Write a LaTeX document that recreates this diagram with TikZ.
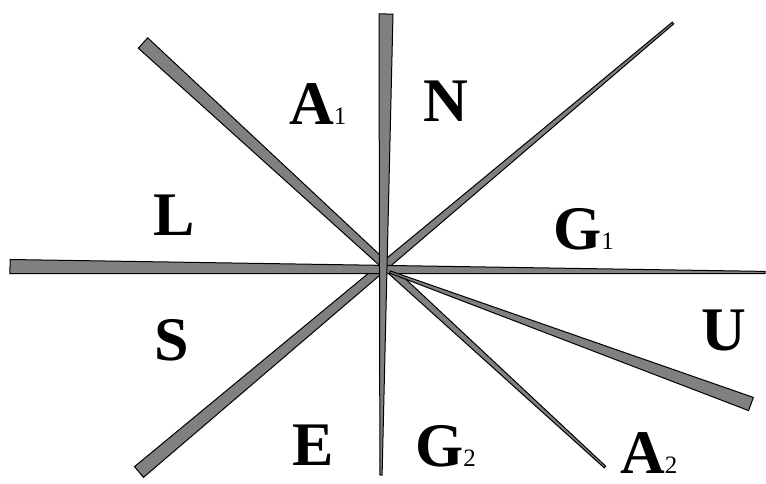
\documentclass[tikz,border=0pt]{standalone}
\usepackage{fontspec}
\setmainfont{Liberation Serif}
\definecolor{bargray}{HTML}{808080}
\usepackage{tikz}
\usetikzlibrary{calc}

\newcommand\taperbar[4]{% wide end, thin end, half widths
	\filldraw[bar] ($(#1)!#3!90:(#2)$) -- ($(#1)!#3!-90:(#2)$) -- ($(#2)!#4!90:(#1)$) -- ($(#2)!#4!-90:(#1)$) -- cycle;}

\begin{document}
\begin{tikzpicture}[
							x=1pt, y=-1pt,
							bar/.style={fill=bargray, draw=black, line width=1pt, line join=miter},
							lbl/.style={anchor=base west, inner sep=0pt, text depth=0pt, font=\fontsize{62}{62}\selectfont\bfseries},
						]
						\useasboundingbox (0,0) rectangle (766,484);
						% ends of the bars
						\coordinate (ctr) at (390,272);
						\coordinate (nw) at (143,43);
						\coordinate (se) at (605,467);
						\coordinate (sw) at (139,472);
						\coordinate (ne) at (673,23);
						\coordinate (w) at (10,266.5);
						\coordinate (e) at (765,272.5);
						\coordinate (u) at (751,404);
						\coordinate (n) at (386,14);
						\coordinate (s) at (381,475);
						\foreach \wide/\thin in {nw/se, sw/ne, w/e, u/ctr, n/s} {
								\taperbar{\wide}{\thin}{7pt}{1.1pt}
							}
						% sector letters
						\node[lbl] (a1) at (289,125) {A{\fontsize{25}{25}\selectfont\mdseries 1}};
						\node[lbl] (nn) at (423,122) {N};
						\node[lbl] (ll) at (153,235) {L};
						\node[lbl] (g1) at (553,249) {G{\fontsize{25}{25}\selectfont\mdseries 1}};
						\node[lbl] (ss) at (154,360) {S};
						\node[lbl] (uu) at (701,350) {U};
						\node[lbl] (ee) at (292,465) {E};
						\node[lbl] (g2) at (415,466) {G{\fontsize{25}{25}\selectfont\mdseries 2}};
						\node[lbl] (a2) at (620,473) {A{\fontsize{25}{25}\selectfont\mdseries 2}};
					\end{tikzpicture}
\end{document}
